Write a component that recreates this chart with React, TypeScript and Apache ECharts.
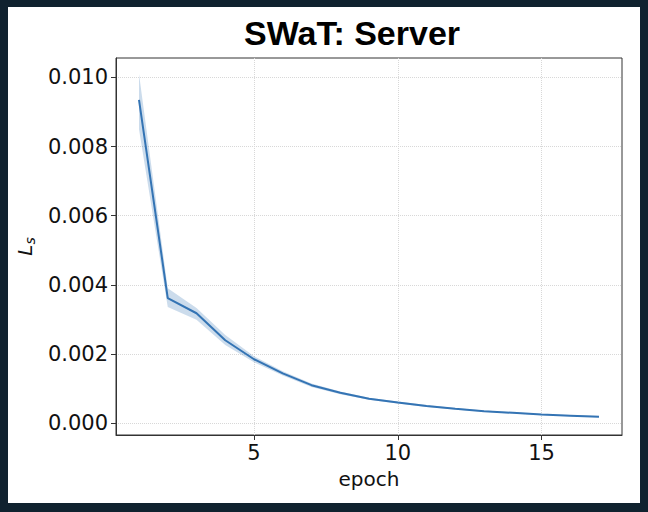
import React, { useEffect, useRef } from "react";
import * as echarts from "echarts";

const epochs = [1, 2, 3, 4, 5, 6, 7, 8, 9, 10, 11, 12, 13, 14, 15, 16, 17];
const meanLoss = [0.00935, 0.00362, 0.00318, 0.0024, 0.00185, 0.00144, 0.0011, 0.00088, 0.00071, 0.0006, 0.0005, 0.00042, 0.00035, 0.0003, 0.00025, 0.00022, 0.00019];
const lowerLoss = [0.0085, 0.00336, 0.00299, 0.00226, 0.00176, 0.00138, 0.00105, 0.00084, 0.00068, 0.00057, 0.00047, 0.0004, 0.00033, 0.00028, 0.00023, 0.0002, 0.00017];
const upperLoss = [0.0101, 0.0039, 0.00333, 0.00255, 0.00194, 0.0015, 0.00115, 0.00092, 0.00074, 0.00063, 0.00053, 0.00044, 0.00037, 0.00032, 0.00027, 0.00024, 0.00021];
const yTicks = [0, 0.002, 0.004, 0.006, 0.008, 0.01];
const xTicks = [5, 10, 15];

const LINE = "#3474b4";

export default function App() {
  const ref = useRef<HTMLDivElement>(null);
  useEffect(() => {
    if (!ref.current) return;
    const chart = echarts.init(ref.current, null, { renderer: "svg" });
    const bandData = epochs.map((e, i) => [e, lowerLoss[i], upperLoss[i]]);
    const mean = epochs.map((e, i) => [e, meanLoss[i]]);
    chart.setOption({
      animation: false,
      backgroundColor: "#ffffff",
      title: {
        text: "SWaT: Server",
        left: 347,
        top: 11,
        textAlign: "center",
        textStyle: { fontFamily: "Liberation Sans", fontWeight: 700, fontSize: 34, color: "#000" },
      },
      grid: {
        left: 116,
        right: 26,
        top: 58,
        bottom: 77,
        show: true,
        borderColor: "#333",
        borderWidth: 1,
        backgroundColor: "transparent",
      },
      xAxis: {
        type: "value",
        min: 0.2,
        max: 17.8,
        name: "epoch",
        nameLocation: "middle",
        nameGap: 34,
        nameTextStyle: { fontFamily: "DejaVu Sans", fontSize: 20, color: "#111" },
        axisLine: { show: true, onZero: false, lineStyle: { color: "#333", width: 1 } },
        axisTick: { show: true, length: 5, customValues: xTicks, lineStyle: { color: "#333" } },
        axisLabel: { customValues: xTicks, fontFamily: "DejaVu Sans", fontSize: 21, color: "#111", margin: 7 },
        splitLine: { show: true, lineStyle: { color: "#d8d8d8", type: "dotted", width: 1 } },
      },
      yAxis: {
        type: "value",
        min: -0.00034,
        max: 0.01056,
        name: "{a|L}{b|s}",
        nameLocation: "middle",
        nameRotate: 90,
        nameGap: 77,
        nameTextStyle: {
          rich: {
            a: { fontFamily: "DejaVu Sans", fontStyle: "italic", fontSize: 20, color: "#111" },
            b: { fontFamily: "DejaVu Sans", fontStyle: "italic", fontSize: 14, color: "#111", padding: [10, 0, 0, 0] },
          },
        },
        axisLine: { show: true, onZero: false, lineStyle: { color: "#333", width: 1 } },
        axisTick: { show: true, length: 5, customValues: yTicks, lineStyle: { color: "#333" } },
        axisLabel: {
          customValues: yTicks,
          fontFamily: "DejaVu Sans",
          fontSize: 21,
          color: "#111",
          margin: 8,
          formatter: (v: number) => v.toFixed(3),
        },
        splitLine: { show: true, lineStyle: { color: "#d8d8d8", type: "dotted", width: 1 } },
      },
      series: [
        {
          type: "custom",
          data: bandData,
          silent: true,
          z: 1,
          encode: { x: 0, y: [1, 2] },
          renderItem: (params: any, api: any) => {
            if (params.dataIndex !== 0) return null;
            const upper = bandData.map((d) => api.coord([d[0], d[2]]));
            const lower = bandData.map((d) => api.coord([d[0], d[1]])).reverse();
            return {
              type: "polygon",
              shape: { points: upper.concat(lower) },
              style: { fill: LINE, opacity: 0.25 },
            };
          },
        },
        {
          type: "line",
          data: mean,
          symbol: "none",
          lineStyle: { color: LINE, width: 2 },
          z: 5,
        },
      ],
    });
    return () => chart.dispose();
  }, []);
  return (
    <div style={{ position: "absolute", left: 0, top: 0, width: 648, height: 512 }}>
      <div ref={ref} style={{ position: "absolute", left: 0, top: 0, width: 648, height: 512 }} />
      <div
        style={{
          position: "absolute",
          left: 0,
          top: 0,
          width: 648,
          height: 512,
          boxSizing: "border-box",
          borderStyle: "solid",
          borderColor: "#10222f",
          borderWidth: "7px 8px 9px 8px",
          pointerEvents: "none",
        }}
      />
    </div>
  );
}
